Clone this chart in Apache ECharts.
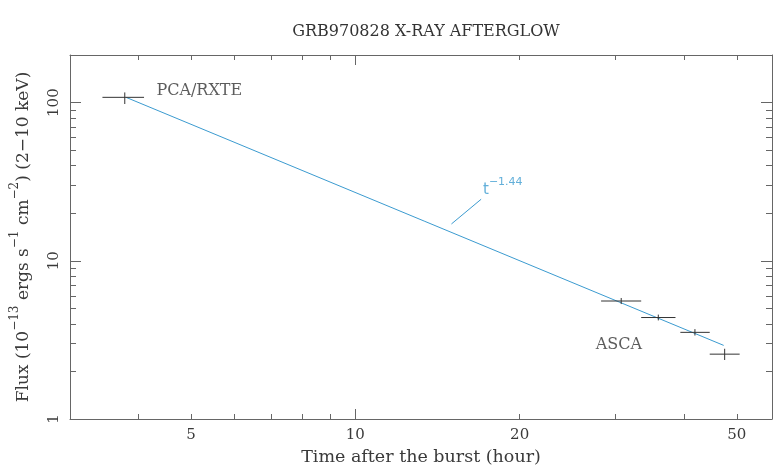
<!DOCTYPE html>
<html><head><meta charset="utf-8">
<script src="https://cdn.jsdelivr.net/npm/echarts@6/dist/echarts.min.js"></script>
<style>html,body{margin:0;padding:0;background:#fff}#c{width:773px;height:471px}</style>
</head><body><div id="c"></div>
<script>
// ---- data ----
const chartTitle = 'GRB970828 X-RAY AFTERGLOW';
const timeHours = [3.78, 30.7, 35.9, 41.9, 47.5];
const timeLow   = [3.44, 28.2, 33.4, 39.4, 44.6];
const timeHigh  = [4.10, 33.4, 38.6, 44.6, 50.6];
const flux      = [108, 5.57, 4.38, 3.53, 2.57];
const fluxLow   = [98, 5.33, 4.20, 3.37, 2.36];
const fluxHigh  = [116, 5.82, 4.57, 3.70, 2.78];
const fitTime = [3.8, 47.3];
const fitFlux = [108, 2.92];
const xTickLabels = [5, 10, 20, 50];
const xMinorTicks = [3, 4, 5, 6, 7, 8, 9, 20, 30, 40, 50];
const xMajorTicks = [10];
const yTickLabels = [1, 10, 100];
const yMinorTicks = [2, 3, 4, 5, 6, 7, 8, 9, 20, 30, 40, 50, 60, 70, 80, 90, 200];
const yMajorTicks = [1, 10, 100];

// ---- annotation placement (data coordinates) ----
const annotations = {
  pca: { at: [4.31, 119], text: 'PCA/RXTE' },
  asca: { at: [27.5, 2.93], text: 'ASCA' },
  slope: { at: [17.1, 27.9], text: '{t|t}{e|\u22121.44}' },
  pointer: [[15, 17.1], [17, 24.5]]
};

const SERIF = 'DejaVu Serif';
const AX = '#666';
const TXT = '#3a3a3a';
const BLUE = '#3b9bd0';
const X_MIN = 3, X_MAX = 58, Y_MIN = 1, Y_MAX = 200;

function xAxisDef(pos, ticks, len, showLine, labels) {
  return {
    type: 'log', position: pos, min: X_MIN, max: X_MAX, logBase: 10,
    axisLine: { show: showLine, lineStyle: { color: AX, width: 1 } },
    axisTick: { show: true, inside: true, length: len, customValues: ticks, lineStyle: { color: AX } },
    axisLabel: labels ? { show: true, customValues: labels, margin: 9, fontFamily: SERIF, fontSize: 15, color: TXT } : { show: false },
    splitLine: { show: false }
  };
}
function yAxisDef(pos, ticks, len, showLine, labels) {
  return {
    type: 'log', position: pos, min: Y_MIN, max: Y_MAX, logBase: 10,
    axisLine: { show: showLine, lineStyle: { color: AX, width: 1 } },
    axisTick: { show: true, inside: true, length: len, customValues: ticks, lineStyle: { color: AX } },
    axisLabel: labels ? { show: true, customValues: labels, rotate: 90, margin: 8, fontFamily: SERIF, fontSize: 15, color: TXT } : { show: false },
    splitLine: { show: false }
  };
}

const xAxes = [
  Object.assign(xAxisDef('bottom', xMinorTicks, 5, true, xTickLabels), {
    name: 'Time after the burst (hour)', nameLocation: 'middle', nameGap: 29,
    nameTextStyle: { fontFamily: SERIF, fontSize: 17.5, color: TXT }
  }),
  xAxisDef('bottom', xMajorTicks, 10, false, null),
  xAxisDef('top', xMinorTicks, 5, true, null),
  xAxisDef('top', xMajorTicks, 10, false, null)
];
const yAxes = [
  Object.assign(yAxisDef('left', yMinorTicks, 6, true, yTickLabels), {
    name: '{m|Flux (10}{s|\u221213}{m| ergs s}{s|\u22121}{m| cm}{s|\u22122}{m|) (2\u221210 keV)}',
    nameLocation: 'middle', nameGap: 31, nameRotate: 90,
    nameTextStyle: {
      rich: {
        m: { fontFamily: SERIF, fontSize: 17, color: TXT, lineHeight: 30 },
        s: { fontFamily: SERIF, fontSize: 12, color: TXT, verticalAlign: 'top', lineHeight: 2 }
      }
    }
  }),
  yAxisDef('left', yMajorTicks, 11, false, null),
  yAxisDef('right', yMinorTicks, 6, true, null),
  yAxisDef('right', yMajorTicks, 11, false, null)
];

const errData = timeHours.map((t, i) => [t, flux[i], timeLow[i], timeHigh[i], fluxLow[i], fluxHigh[i]]);

const chart = echarts.init(document.getElementById('c'), null, { renderer: 'canvas' });
chart.setOption({
  animation: false,
  backgroundColor: '#fff',
  title: {
    text: chartTitle, left: 421, top: 19, textAlign: 'center',
    textStyle: { fontFamily: SERIF, fontSize: 16, fontWeight: 'normal', color: '#333' }
  },
  grid: { left: 70, right: 1, top: 55, bottom: 49, containLabel: false },
  xAxis: xAxes,
  yAxis: yAxes,
  series: [
    {
      type: 'line', name: 'fit', data: fitTime.map((t, i) => [t, fitFlux[i]]),
      symbol: 'none', lineStyle: { color: BLUE, width: 1 }, z: 3
    },
    {
      type: 'line', name: 'pointer', data: annotations.pointer,
      symbol: 'none', lineStyle: { color: BLUE, width: 1 }, z: 3
    },
    {
      type: 'custom', name: 'points', data: errData,
      encode: { x: 0, y: 1 }, z: 4,
      renderItem: function (params, api) {
        const x = api.value(0), y = api.value(1);
        const pL = api.coord([api.value(2), y]), pR = api.coord([api.value(3), y]);
        const pB = api.coord([x, api.value(4)]), pT = api.coord([x, api.value(5)]);
        const st = { stroke: '#333', lineWidth: 1 };
        return { type: 'group', children: [
          { type: 'line', shape: { x1: pL[0], y1: pL[1], x2: pR[0], y2: pR[1] }, style: st },
          { type: 'line', shape: { x1: pB[0], y1: pB[1], x2: pT[0], y2: pT[1] }, style: st }
        ] };
      }
    },
    {
      type: 'scatter', name: 'labels', symbolSize: 1, itemStyle: { color: 'rgba(0,0,0,0)' }, z: 5,
      data: [
        { value: annotations.pca.at, label: { formatter: annotations.pca.text } },
        { value: annotations.asca.at, label: { formatter: annotations.asca.text } }
      ],
      label: { show: true, position: 'right', distance: 0, fontFamily: SERIF, fontSize: 16, color: '#333' }
    },
    {
      type: 'scatter', name: 'slope', symbolSize: 1, itemStyle: { color: 'rgba(0,0,0,0)' }, z: 5,
      data: [{ value: annotations.slope.at }],
      label: {
        show: true, position: 'right', distance: 0, formatter: annotations.slope.text,
        rich: {
          t: { fontFamily: 'DejaVu Sans', fontSize: 15, color: BLUE, lineHeight: 28 },
          e: { fontFamily: 'DejaVu Sans', fontSize: 11, color: BLUE, verticalAlign: 'top', lineHeight: 2 }
        }
      }
    }
  ]
});
</script>
</body></html>
